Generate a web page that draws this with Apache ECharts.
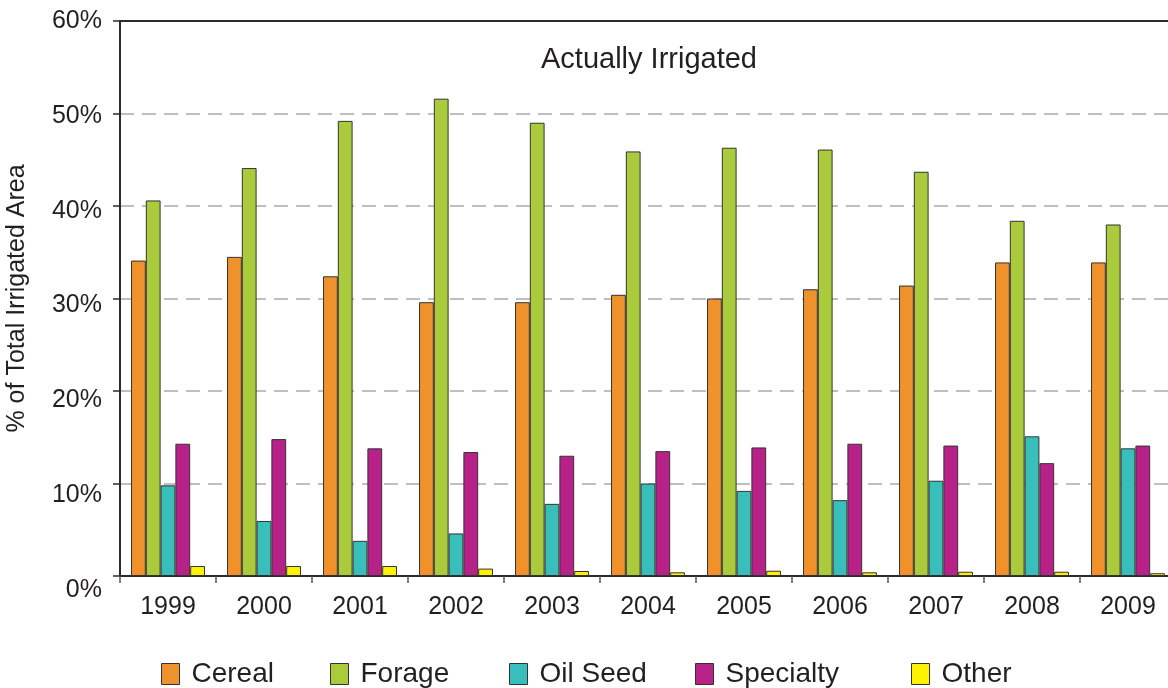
<!DOCTYPE html>
<html>
<head>
<meta charset="utf-8">
<script src="https://cdn.jsdelivr.net/npm/echarts@6/dist/echarts.min.js"></script>
<style>
  html, body { margin: 0; padding: 0; background: #fff; }
  #chart { width: 1168px; height: 688px; }
</style>
</head>
<body>
<div id="chart"></div>
<script>
const years = ['1999','2000','2001','2002','2003','2004','2005','2006','2007','2008','2009'];
const cereal    = [34.1, 34.5, 32.4, 29.6, 29.6, 30.4, 30.0, 31.0, 31.4, 33.9, 33.9];
const forage    = [40.6, 44.1, 49.2, 51.6, 49.0, 45.9, 46.3, 46.1, 43.7, 38.4, 38.0];
const oilSeed   = [9.8, 5.95, 3.8, 4.6, 7.8, 10.0, 9.2, 8.2, 10.3, 15.1, 13.8];
const specialty = [14.3, 14.8, 13.8, 13.4, 13.0, 13.5, 13.9, 14.3, 14.1, 12.2, 14.1];
const other     = [1.08, 1.08, 1.08, 0.8, 0.54, 0.4, 0.57, 0.4, 0.46, 0.46, 0.3];
const yTicks = [0, 10, 20, 30, 40, 50, 60];

const seriesDefs = [
  { name: 'Cereal', data: cereal, color: '#F0922B' },
  { name: 'Forage', data: forage, color: '#AACB3B' },
  { name: 'Oil Seed', data: oilSeed, color: '#38BFBB' },
  { name: 'Specialty', data: specialty, color: '#B72188' },
  { name: 'Other', data: other, color: '#FFF200' }
];
const legendLeft = [161, 330, 509, 695, 911];

const font = 'Liberation Sans, Arial, Helvetica, sans-serif';
const textColor = '#231f20';

const chart = echarts.init(document.getElementById('chart'), null, { renderer: 'canvas' });

const option = {
  animation: false,
  backgroundColor: '#ffffff',
  textStyle: { fontFamily: font, color: textColor },
  title: {
    text: 'Actually Irrigated',
    left: 649,
    top: 45,
    padding: 0,
    textAlign: 'center',
    textStyle: { fontFamily: font, fontSize: 29, fontWeight: 'normal', color: textColor }
  },
  legend: seriesDefs.map((s, i) => ({
    data: [s.name],
    left: legendLeft[i],
    top: 660,
    padding: 0,
    itemWidth: 18,
    itemHeight: 21,
    icon: 'rect',
    itemStyle: { borderColor: '#333', borderWidth: 1 },
    textStyle: { fontFamily: font, fontSize: 28, color: textColor, padding: [0, 0, 0, 7] },
    selectedMode: false
  })),
  grid: [
    { left: 120, top: 21, width: 1056, height: 555, containLabel: false, outerBoundsMode: 'none' },
    { left: 120, top: 21, width: 1056, height: 569, containLabel: false, outerBoundsMode: 'none' }
  ],
  xAxis: [
    {
      type: 'category', data: years, gridIndex: 0, position: 'bottom',
      axisLine: { lineStyle: { color: '#2b2b2b', width: 2 } },
      axisTick: { show: true, length: 7, lineStyle: { color: '#555', width: 1.5 } },
      axisLabel: { fontFamily: font, fontSize: 25, color: textColor, margin: 19 }
    },
    {
      type: 'category', data: years, gridIndex: 0, position: 'top',
      axisLine: { show: true, lineStyle: { color: '#2b2b2b', width: 2 } },
      axisTick: { show: false }, axisLabel: { show: false }
    },
    { type: 'category', data: years, gridIndex: 1, show: false }
  ],
  yAxis: [
    {
      type: 'value', gridIndex: 0, min: 0, max: 60, interval: 10,
      name: '% of Total Irrigated Area', nameLocation: 'middle', nameGap: 90,
      nameTextStyle: { fontFamily: font, fontSize: 25, color: textColor },
      axisLine: { show: true, lineStyle: { color: '#2b2b2b', width: 2 } },
      axisTick: { show: true, length: 7, lineStyle: { color: '#2b2b2b', width: 1.5 } },
      axisLabel: { show: false },
      splitLine: { show: true, lineStyle: { color: '#aaaaaa', width: 1.5, type: [14, 8] } }
    },
    {
      type: 'value', gridIndex: 1, min: 0, max: 60, interval: 10,
      axisLine: { show: false }, axisTick: { show: false }, splitLine: { show: false },
      axisLabel: { fontFamily: font, fontSize: 25, color: textColor, margin: 18,
        formatter: v => (yTicks.indexOf(v) >= 0 ? v + '%' : '') }
    }
  ],
  series: seriesDefs.map(s => ({
    name: s.name,
    type: 'bar',
    xAxisIndex: 0,
    yAxisIndex: 0,
    data: s.data,
    barGap: '0%',
    barCategoryGap: '23%',
    itemStyle: { color: s.color, borderColor: '#333', borderWidth: 1 }
  }))
};

chart.setOption(option);
</script>
</body>
</html>
